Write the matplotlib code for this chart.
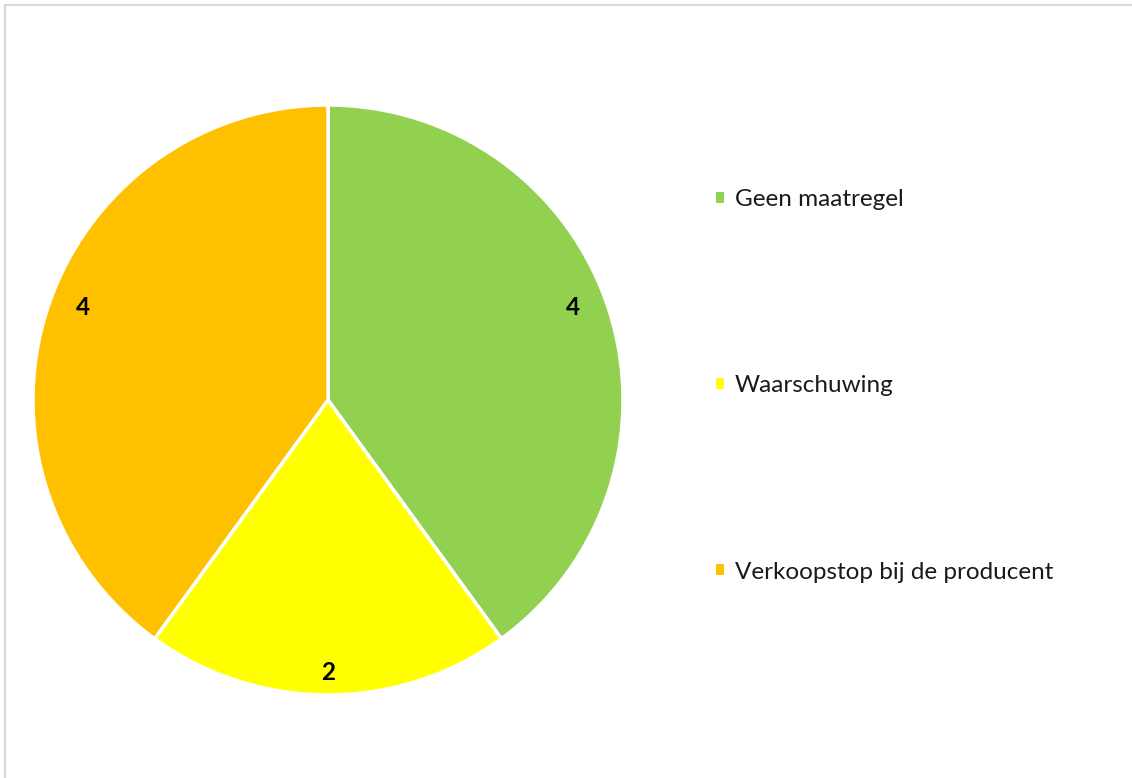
import matplotlib
matplotlib.use("Agg")
import matplotlib.pyplot as plt
from matplotlib.patches import Rectangle
import numpy as np

categories = ["Geen maatregel", "Waarschuwing", "Verkoopstop bij de producent"]
values = [4, 2, 4]
colors = ["#92d050", "#ffff00", "#ffc000"]

plt.rcParams['font.family'] = ['Lato', 'DejaVu Sans']

W, H = 1132, 778
fig = plt.figure(figsize=(W / 100, H / 100), dpi=100)

# chart border
fig.patches.append(Rectangle((4.5 / W, -0.1), 1.2, 1 - 4.5 / H + 0.1, transform=fig.transFigure,
                             fill=False, edgecolor="#d9d9d9", linewidth=1.5))

cx, cy, r = 328, 400, 295
ax = fig.add_axes([(cx - r) / W, (H - cy - r) / H, 2 * r / W, 2 * r / H])
wedges, _ = ax.pie(values, colors=colors, startangle=90, counterclock=False,
                   wedgeprops=dict(edgecolor="white", linewidth=2.5), radius=1.0)
ax.set_xlim(-1, 1)
ax.set_ylim(-1, 1)
ax.set_aspect('equal')

for w, v in zip(wedges, values):
    ang = np.deg2rad((w.theta1 + w.theta2) / 2)
    d = 0.9
    ax.text(d * np.cos(ang) * 0.97, d * np.sin(ang) * 1.05 + 0.02, str(v), ha='center', va='center',
            fontsize=17.5, fontweight='bold', color='black')

fs = 17.5
leg = fig.legend(wedges, categories, loc='center left',
                 bbox_to_anchor=(716 / W, 1 - 386 / H), frameon=False,
                 fontsize=fs, handlelength=0.33, handleheight=0.33,
                 handletextpad=0.45, labelspacing=6.79, borderpad=0, borderaxespad=0)
for h in leg.legend_handles:
    h.set_edgecolor('none')
for t in leg.get_texts():
    t.set_color('#1a1a1a')

fig.savefig("out.png", dpi=100)
